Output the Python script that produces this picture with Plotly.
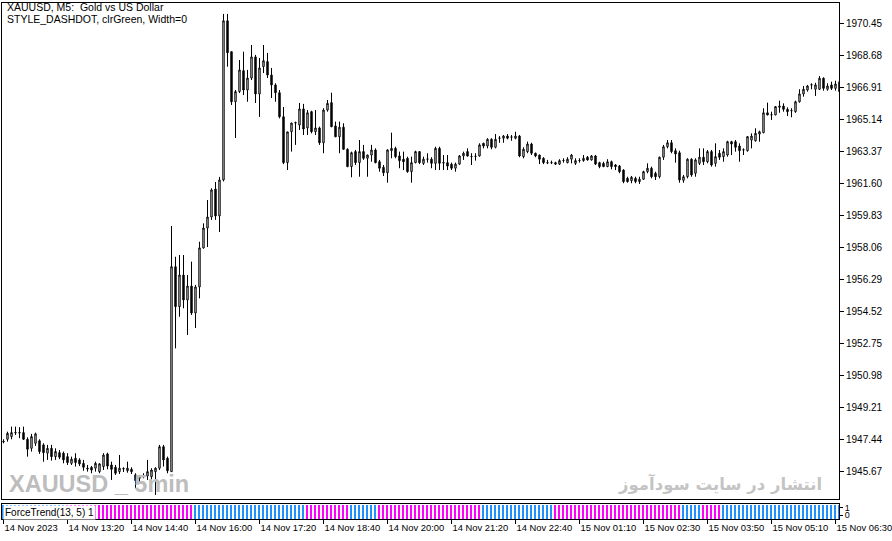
import plotly.graph_objects as go

# ---------------- data ----------------
opens = [1947.28,1947.43,1947.58,1947.78,1947.80,1947.80,1947.43,1946.93,1947.21,1947.35,
1947.12,1946.66,1946.93,1946.47,1946.69,1946.66,1946.47,1946.10,1946.38,1946.29,
1946.10,1945.83,1945.88,1945.83,1945.64,1945.92,1946.62,1946.01,1945.88,1945.64,
1945.81,1945.69,1945.77,1945.46,1945.36,1945.43,1945.40,1945.36,1945.64,1945.83,
1947.02,1946.38,1945.64,1956.98,1954.77,1956.52,1955.14,1955.91,1954.42,1955.86,
1958.02,1959.12,1959.73,1961.28,1959.79,1961.78,1970.59,1968.88,1966.11,1966.67,
1967.83,1966.76,1967.42,1968.59,1966.54,1968.05,1968.33,1967.59,1967.04,1966.61,
1965.28,1962.74,1964.45,1964.93,1964.82,1965.71,1964.66,1965.56,1964.45,1964.66,
1963.84,1965.65,1966.06,1964.77,1964.17,1964.70,1963.48,1962.52,1963.35,1962.74,
1963.35,1962.98,1963.16,1963.44,1962.79,1962.48,1962.18,1963.40,1963.53,1963.11,
1962.93,1962.98,1962.24,1962.74,1963.35,1962.70,1962.93,1962.93,1962.70,1963.53,
1962.74,1962.74,1962.65,1962.43,1962.66,1963.11,1963.35,1963.07,1963.08,1963.11,
1963.81,1963.66,1964.03,1963.59,1964.09,1964.09,1964.21,1964.15,1964.09,1964.21,
1963.07,1963.35,1963.77,1963.26,1963.16,1962.98,1962.74,1962.73,1962.74,1962.66,
1962.85,1962.74,1962.93,1962.70,1962.85,1962.85,1963.04,1962.89,1963.11,1962.74,
1962.70,1962.52,1962.79,1962.61,1962.55,1962.33,1961.87,1961.74,1961.87,1961.69,
1961.82,1962.24,1962.43,1962.15,1961.96,1963.04,1963.62,1963.84,1963.40,1963.29,
1961.76,1961.96,1962.93,1962.15,1962.70,1963.04,1962.79,1963.35,1962.70,1963.26,
1963.07,1963.16,1963.90,1963.90,1963.66,1963.44,1963.40,1963.99,1963.95,1964.32,
1964.40,1965.50,1965.38,1965.38,1965.80,1965.87,1965.69,1965.61,1965.56,1966.11,
1966.54,1966.76,1967.04,1966.80,1966.80,1967.41,1966.80,1967.04,1966.85,1967.22]

highs = [1947.43,1947.85,1948.13,1948.13,1948.10,1948.13,1947.54,1947.73,1947.80,1947.43,
1947.21,1947.12,1947.12,1946.93,1946.84,1946.75,1946.66,1946.47,1946.66,1946.38,
1946.29,1946.01,1945.95,1946.19,1946.10,1946.66,1946.69,1946.19,1946.01,1946.56,
1945.88,1946.19,1945.88,1945.55,1945.46,1945.55,1946.29,1945.83,1945.88,1947.12,
1947.12,1946.47,1959.23,1957.53,1957.63,1957.63,1956.52,1957.26,1955.97,1958.36,
1959.38,1960.67,1961.32,1961.67,1961.95,1970.97,1970.97,1968.88,1966.76,1968.42,
1968.88,1967.87,1969.25,1968.70,1968.53,1969.25,1968.81,1967.98,1967.13,1966.76,
1965.82,1964.45,1964.95,1965.01,1966.04,1965.99,1965.65,1965.61,1965.65,1964.73,
1965.75,1966.21,1966.61,1965.01,1965.01,1964.92,1963.53,1963.35,1963.44,1963.99,
1963.72,1963.18,1963.72,1963.53,1962.89,1962.61,1963.48,1964.40,1963.62,1963.35,
1963.35,1963.07,1963.07,1963.40,1963.38,1963.07,1963.26,1963.04,1963.62,1963.62,
1963.16,1963.16,1962.74,1962.74,1963.16,1963.35,1963.53,1963.26,1963.26,1963.81,
1963.84,1964.09,1964.09,1964.32,1964.21,1964.27,1964.32,1964.27,1964.45,1964.27,
1963.59,1963.90,1963.84,1963.29,1963.18,1963.04,1962.89,1962.85,1962.79,1962.93,
1962.98,1963.04,1963.22,1962.98,1962.98,1963.16,1963.11,1963.16,1963.16,1962.79,
1962.79,1962.93,1962.85,1962.66,1962.61,1962.37,1961.96,1962.00,1961.96,1961.96,
1962.29,1962.70,1962.52,1962.24,1963.07,1963.72,1963.99,1963.99,1963.53,1963.40,
1962.06,1962.98,1962.98,1962.98,1963.53,1963.53,1963.44,1963.44,1963.81,1963.44,
1963.53,1963.95,1963.95,1963.99,1963.81,1963.53,1964.20,1964.36,1964.64,1964.51,
1965.75,1966.06,1965.56,1965.87,1966.17,1966.02,1965.80,1965.75,1966.17,1966.80,
1966.98,1967.04,1967.13,1967.16,1967.53,1967.46,1967.13,1967.22,1967.27,1967.41]

lows = [1947.21,1947.30,1947.43,1947.67,1947.49,1947.39,1946.47,1946.75,1947.06,1946.62,
1946.19,1946.29,1946.25,1946.29,1946.33,1946.10,1946.01,1946.01,1945.92,1945.95,
1945.69,1945.64,1945.55,1945.64,1945.55,1945.73,1945.77,1945.18,1945.46,1945.51,
1945.62,1945.58,1945.51,1944.72,1945.09,1945.27,1945.18,1945.09,1944.35,1945.73,
1945.92,1945.55,1945.62,1952.46,1954.21,1954.68,1953.20,1954.31,1953.59,1955.23,
1957.98,1958.07,1959.57,1959.57,1958.90,1961.70,1968.05,1965.93,1964.10,1966.59,
1966.48,1966.11,1967.31,1966.04,1965.27,1967.70,1967.42,1966.32,1966.11,1965.19,
1962.66,1962.33,1963.35,1963.72,1964.55,1964.27,1964.27,1964.36,1964.27,1963.72,
1963.26,1965.56,1964.70,1964.15,1963.26,1963.44,1962.49,1961.93,1962.61,1961.96,
1962.89,1961.96,1962.79,1962.70,1962.24,1962.00,1961.63,1962.98,1962.98,1962.43,
1962.33,1962.18,1961.63,1962.70,1962.66,1962.61,1962.74,1962.43,1962.33,1962.33,
1962.33,1962.33,1962.33,1962.24,1962.61,1962.89,1963.07,1962.61,1962.85,1963.07,
1963.53,1963.53,1963.48,1963.53,1963.84,1963.84,1964.03,1963.95,1964.03,1963.04,
1962.98,1963.26,1963.16,1963.04,1962.66,1962.66,1962.66,1962.66,1962.61,1962.61,
1962.74,1962.70,1962.70,1962.61,1962.74,1962.79,1962.85,1962.85,1962.61,1962.43,
1962.49,1962.49,1962.37,1962.33,1962.15,1961.60,1961.63,1961.60,1961.60,1961.56,
1961.78,1962.15,1961.87,1961.78,1961.87,1962.89,1963.53,1963.26,1962.74,1961.63,
1961.63,1961.87,1961.96,1961.96,1962.61,1962.61,1962.70,1962.52,1962.52,1962.89,
1962.79,1963.07,1963.16,1963.35,1962.79,1963.16,1963.35,1963.53,1963.90,1963.90,
1964.36,1965.36,1965.10,1965.36,1965.50,1965.56,1965.32,1965.25,1965.50,1966.06,
1966.39,1966.67,1966.80,1966.43,1966.76,1966.72,1966.72,1966.76,1966.72,1966.61]

closes = [1947.31,1947.76,1947.80,1947.80,1947.78,1947.43,1946.88,1947.58,1947.73,1946.75,
1946.69,1946.93,1946.47,1946.75,1946.44,1946.29,1946.14,1946.33,1946.14,1946.07,
1945.88,1945.79,1945.73,1946.10,1946.07,1946.56,1945.95,1945.77,1945.55,1945.83,
1945.79,1945.83,1945.64,1945.14,1945.27,1945.42,1945.64,1945.73,1945.83,1947.02,
1946.29,1945.69,1956.98,1954.77,1956.52,1955.14,1955.91,1954.42,1955.86,1958.02,
1959.12,1959.73,1961.23,1959.79,1961.78,1970.59,1968.82,1966.11,1966.67,1967.87,
1966.76,1967.42,1968.59,1966.54,1967.98,1968.38,1967.59,1967.04,1966.61,1965.28,
1962.74,1964.44,1964.93,1964.95,1965.71,1964.60,1965.50,1964.45,1964.66,1963.84,
1965.65,1966.02,1964.73,1964.17,1964.70,1963.48,1962.52,1963.29,1962.74,1963.35,
1962.98,1963.16,1963.44,1962.74,1962.43,1962.18,1963.44,1963.53,1963.07,1962.85,
1962.79,1962.24,1962.74,1963.35,1962.74,1962.93,1962.94,1962.70,1963.53,1962.70,
1962.72,1962.55,1962.43,1962.66,1963.11,1963.26,1963.11,1963.08,1963.09,1963.72,
1963.66,1964.03,1963.59,1964.03,1964.10,1964.21,1964.09,1964.16,1964.21,1963.11,
1963.48,1963.77,1963.26,1963.11,1962.93,1962.74,1962.73,1962.74,1962.66,1962.85,
1962.86,1962.93,1963.16,1962.85,1962.86,1962.98,1962.89,1963.11,1962.66,1962.52,
1962.52,1962.79,1962.52,1962.52,1962.24,1961.69,1961.69,1961.93,1961.69,1961.82,
1962.24,1962.43,1961.96,1961.96,1963.04,1963.62,1963.84,1963.35,1963.22,1961.78,
1961.96,1962.93,1962.06,1962.89,1963.04,1962.79,1963.35,1962.61,1963.07,1963.04,
1963.35,1963.90,1963.77,1963.59,1963.40,1963.45,1964.18,1964.21,1964.36,1964.45,
1965.50,1965.38,1965.39,1965.84,1965.87,1965.69,1965.56,1965.62,1966.11,1966.54,
1966.80,1966.98,1967.05,1967.04,1967.41,1966.85,1966.98,1966.85,1967.09,1966.67]

price_ticks = [1970.45, 1968.68, 1966.91, 1965.14, 1963.37, 1961.60, 1959.83, 1958.06,
               1956.29, 1954.52, 1952.75, 1950.98, 1949.21, 1947.44, 1945.67]

time_tick_bars = [0, 16, 32, 48, 64, 80, 96, 112, 128, 144, 160, 176, 192, 208]
time_tick_labels = ["14 Nov 2023", "14 Nov 13:20", "14 Nov 14:40", "14 Nov 16:00",
                    "14 Nov 17:20", "14 Nov 18:40", "14 Nov 20:00", "14 Nov 21:20",
                    "14 Nov 22:40", "15 Nov 01:10", "15 Nov 02:30", "15 Nov 03:50",
                    "15 Nov 05:10", "15 Nov 06:30"]

# ForceTrend state runs (up = blue, down = magenta)
trend_run_states = ["up", "down", "up", "down", "up", "down", "up", "down", "up", "down", "up"]
trend_run_lengths = [16, 32, 28, 11, 7, 26, 18, 32, 5, 5, 30]
trend_value = 1

# ---------------- build ----------------
n = len(opens)
idx = list(range(n))
trend_states = []
for s, L in zip(trend_run_states, trend_run_lengths):
    trend_states += [s] * L
state_color = {"up": "#1E90FF", "down": "#FF00FF"}
bar_colors = [state_color[s] for s in trend_states]

W, H = 892, 541
ml, mr, mt, mb = 2, 53, 3, 22
pw, ph = W - ml - mr, H - mt - mb
main_bottom_px = 499
strip_top_px = 504

def py(px):  # pixel row -> paper y
    return (H - mb - px) / ph

def pxx(px):  # pixel col -> paper x
    return (px - ml) / pw

FONT = "Liberation Sans, Arial, sans-serif"

fig = go.Figure()
fig.add_trace(go.Candlestick(
    x=idx, open=opens, high=highs, low=lows, close=closes,
    increasing=dict(line=dict(color="black", width=1), fillcolor="white"),
    decreasing=dict(line=dict(color="black", width=1), fillcolor="black"),
    whiskerwidth=0, xaxis="x", yaxis="y", hoverinfo="skip", showlegend=False,
))
fig.add_trace(go.Bar(
    x=idx, y=[trend_value] * n, marker=dict(color=bar_colors, line=dict(width=0)),
    width=0.5, offset=-0.375, xaxis="x2", yaxis="y2", hoverinfo="skip", showlegend=False,
))

x0 = -0.375
xr = [x0, x0 + pw / 4.0]
ytop_price = 1971.74 - mt / 18.07
ybot_price = 1971.74 - main_bottom_px / 18.07

fig.update_layout(
    width=W, height=H,
    margin=dict(l=ml, r=mr, t=mt, b=mb, pad=0, autoexpand=False),
    paper_bgcolor="white", plot_bgcolor="white",
    showlegend=False, boxgap=0.5, bargap=0,
    font=dict(family=FONT, size=10, color="black"),
    xaxis=dict(domain=[0, 1], range=xr, anchor="y", showticklabels=False, ticks="",
               automargin=False, showgrid=False, zeroline=False, showline=True,
               linecolor="black", linewidth=1, mirror=True, rangeslider=dict(visible=False)),
    yaxis=dict(domain=[py(main_bottom_px), 1], range=[ybot_price, ytop_price], anchor="x",
               side="right", tickvals=price_ticks, ticktext=[f"{v:.2f}" for v in price_ticks],
               ticks="outside", ticklen=4, tickcolor="black", showgrid=False, zeroline=False,
               automargin=False, showline=True, linecolor="black", linewidth=1, mirror=True,
               tickangle=0, tickfont=dict(family=FONT, size=10, color="black")),
    xaxis2=dict(domain=[0, 1], range=xr, anchor="y2", matches="x", tickvals=time_tick_bars,
                ticktext=time_tick_labels, ticks="outside", ticklen=4, tickcolor="black",
                ticklabelposition="outside right", ticklabeloverflow="allow",
                tickangle=0, automargin=False,
                showgrid=False, zeroline=False,
                showline=True, linecolor="black", linewidth=1, mirror=True,
                tickfont=dict(family=FONT, size=9.4, color="black")),
    yaxis2=dict(domain=[0, py(strip_top_px)], range=[0, 1.07], anchor="x2", side="right",
                tickvals=[0.28, 0.8], ticktext=["0", "1"], ticks="outside", ticklen=3,
                tickcolor="black", showgrid=False, zeroline=False, showline=True,
                automargin=False, tickangle=0,
                linecolor="black", linewidth=1, mirror=True,
                tickfont=dict(family=FONT, size=9, color="black")),
)

annotations = [
    dict(text="XAUUSD, M5:  Gold vs US Dollar", x=pxx(5), y=py(7), xanchor="left",
         yanchor="middle", font=dict(family=FONT, size=10.5, color="black")),
    dict(text="STYLE_DASHDOT, clrGreen, Width=0", x=pxx(5), y=py(19.5), xanchor="left",
         yanchor="middle", font=dict(family=FONT, size=10.5, color="black")),
    dict(text="<b>XAUUSD _ 5min</b>", x=pxx(7), y=py(484), xanchor="left", yanchor="middle",
         font=dict(family="Liberation Sans, sans-serif", size=23.5, color="#BDBDBD")),
    dict(text="<b>انتشار در سایت سودآموز</b>", x=pxx(824), y=py(484), xanchor="right",
         yanchor="middle", font=dict(family="DejaVu Sans, sans-serif", size=16.5,
                                     color="#C4C4C4")),
    dict(text="ForceTrend(13, 5) 1", x=pxx(3), y=py(512.5), xanchor="left", yanchor="middle",
         bgcolor="white", borderpad=1, font=dict(family=FONT, size=10, color="black")),
]
for a in annotations:
    a.update(xref="paper", yref="paper", showarrow=False)
fig.update_layout(annotations=annotations)

fig.write_html("out.html", config={"displayModeBar": False},
               post_script="document.body.style.margin='0';document.body.style.overflow='hidden';")
